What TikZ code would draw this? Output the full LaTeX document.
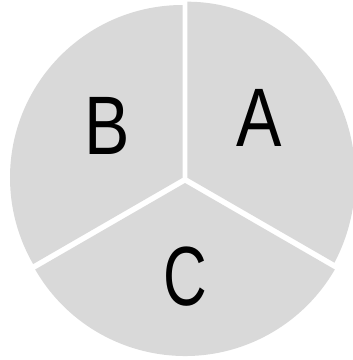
\documentclass[tikz,border=0pt]{standalone}
\usepackage{fontspec}
\newfontfamily\narrowfont[FakeStretch=0.82]{Liberation Sans}
\newfontfamily\slimfont[FakeStretch=0.72]{Liberation Sans}
\definecolor{piegray}{RGB}{217,217,217}

\begin{document}
\begin{tikzpicture}[
    x=1pt, y=1pt,
    slice/.style={fill=piegray},
    letter/.style={inner sep=0pt, font=\narrowfont\fontsize{83}{83}\selectfont},
]
    \useasboundingbox (0,0) rectangle (353,360);
    \clip (0,0) rectangle (353,360);

    \coordinate (oa) at (187.3,182.3);
    \coordinate (ob) at (182.7,182.3);
    \coordinate (oc) at (185,177);

    % slice A (a bit taller than wide)
    \begin{scope}
        \clip (oa) -- ([shift={(-30:400)}]oa) -- ([shift={(30:400)}]oa)
              -- ([shift={(90:400)}]oa) -- cycle;
        \fill[slice] (oa) ellipse[x radius=168pt, y radius=176pt];
    \end{scope}

    % slices B and C
    \fill[slice] (ob) -- ++(90:172.7) arc[start angle=90, end angle=210, radius=172.7pt] -- cycle;
    \fill[slice] (oc) -- ++(210:173) arc[start angle=210, end angle=330, radius=173pt] -- cycle;

    \node[letter] (la) at (258.7,241.7) {A};
    \node[letter] (lb) at (107.5,234.2) {B};
    \node[letter, font=\slimfont\fontsize{84}{84}\selectfont] (lc) at (185.3,83.3) {C};
\end{tikzpicture}
\end{document}
